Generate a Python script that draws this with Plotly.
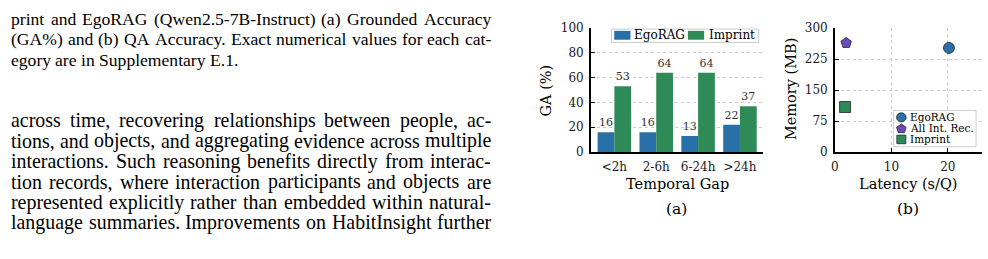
import math
import plotly.graph_objects as go

W, H = 988, 259

# ---------------- data ----------------
categories = ["<2h", "2-6h", "6-24h", ">24h"]
egorag_ga = [16, 16, 13, 22]
imprint_ga = [53, 64, 64, 37]

methods = ["EgoRAG", "All Int. Rec.", "Imprint"]
latency = [20.2, 2.0, 1.8]
memory = [252, 264, 109]

ga_ticks = [0, 20, 40, 60, 80, 100]
mem_ticks = [0, 75, 150, 225, 300]
lat_ticks = [0, 10, 20]

# ---------------- style ----------------
BLUE = "#2a70a8"
GREEN = "#2e8b57"
PURPLE = "#6a4bbd"
SERIF = "DejaVu Serif"
BODY = "Liberation Serif"
GRID = "#cccccc"


def px(x):
    return x / W


def py(y):
    return 1 - y / H


fig = go.Figure()

# (a) grouped bars
fig.add_trace(go.Bar(x=categories, y=egorag_ga, name="EgoRAG", marker_color=BLUE,
                     marker_line_width=0, text=[str(v) for v in egorag_ga],
                     textposition="outside", cliponaxis=False,
                     textfont=dict(family=SERIF, size=11, color="#333333"),
                     xaxis="x", yaxis="y"))
fig.add_trace(go.Bar(x=categories, y=imprint_ga, name="Imprint", marker_color=GREEN,
                     marker_line_width=0, text=[str(v) for v in imprint_ga],
                     textposition="outside", cliponaxis=False,
                     textfont=dict(family=SERIF, size=11, color="#333333"),
                     xaxis="x", yaxis="y"))

# (b) scatter
symbols = ["circle", "pentagon", "square"]
colors = [BLUE, PURPLE, GREEN]
for m, lx, my, s, c in zip(methods, latency, memory, symbols, colors):
    fig.add_trace(go.Scatter(x=[lx], y=[my], mode="markers", name=m,
                             marker=dict(symbol=s, size=11, color=c,
                                         line=dict(width=0.8, color="#222222")),
                             cliponaxis=False, xaxis="x2", yaxis="y2"))

axis_common = dict(showline=True, linecolor="black", linewidth=1.6, zeroline=False,
                   tickfont=dict(family=SERIF, size=12, color="#1a1a1a"),
                   tickcolor="black", ticklen=4, tickwidth=1.2)

fig.update_layout(
    width=W, height=H, margin=dict(l=0, r=0, t=0, b=0),
    paper_bgcolor="white", plot_bgcolor="white", showlegend=False,
    barmode="group", bargap=0.2, bargroupgap=0,
    xaxis=dict(axis_common, domain=[px(589.3), px(762.5)], anchor="y",
               type="category", categoryorder="array", categoryarray=categories,
               range=[-0.56, 3.56], ticks="", showgrid=False, ticklabelstandoff=3),
    yaxis=dict(axis_common, domain=[py(153.3), py(22.3)], anchor="x",
               range=[0, 100], tickvals=ga_ticks, ticks="inside",
               showgrid=True, gridcolor=GRID, griddash="dot", gridwidth=1,
               ticklabelstandoff=3),
    xaxis2=dict(axis_common, domain=[px(834.3), px(981.7)], anchor="y2",
                range=[0, 26], tickvals=lat_ticks, ticks="inside",
                showgrid=True, gridcolor=GRID, griddash="dot", gridwidth=1,
                ticklabelstandoff=3),
    yaxis2=dict(axis_common, domain=[py(153.3), py(22.3)], anchor="x2",
                range=[0, 300], tickvals=mem_ticks, ticks="inside",
                showgrid=True, gridcolor=GRID, griddash="dot", gridwidth=1,
                ticklabelstandoff=3),
)

ann = []
shapes = []


def label(text, x, y, size, family=SERIF, angle=0, xanchor="center", color="black"):
    ann.append(dict(text=text, x=px(x), y=py(y), xref="paper", yref="paper",
                    showarrow=False, xanchor=xanchor, yanchor="middle",
                    textangle=angle, borderpad=0, borderwidth=0,
                    font=dict(family=family, size=size, color=color)))


# axis titles and panel labels
label("GA (%)", 544, 88.5, 14.5, angle=-90)
label("Temporal Gap", 676, 187.5, 14.5)
label("(a)", 675.7, 214, 15.5)
label("Memory (MB)", 790, 87, 14.5, angle=-90)
label("Latency (s/Q)", 907.3, 187.5, 14.5)
label("(b)", 907.7, 214, 15.5)

# legend (a)
shapes.append(dict(type="rect", xref="paper", yref="paper", x0=px(610), x1=px(757.7),
                   y0=py(37.5), y1=py(23.3), fillcolor="rgba(255,255,255,0.85)",
                   line=dict(color="#cccccc", width=1), layer="above"))
for (x0, x1, c, name, tx) in [(612.7, 629, BLUE, "EgoRAG", 633),
                              (686.7, 703, GREEN, "Imprint", 707.7)]:
    shapes.append(dict(type="rect", xref="paper", yref="paper", x0=px(x0), x1=px(x1),
                       y0=py(34.6), y1=py(25.2), fillcolor=c, line=dict(width=0),
                       layer="above"))
    label(name, tx, 30, 12, xanchor="left")

# legend (b)
shapes.append(dict(type="rect", xref="paper", yref="paper", x0=px(893.3), x1=px(976),
                   y0=py(147.7), y1=py(109.3), fillcolor="rgba(255,255,255,0.85)",
                   line=dict(color="#cccccc", width=1), layer="above"))
leg_y = [116.7, 128.3, 140.0]
mx, r = 901, 4.8
for m, c, s, yy in zip(methods, colors, symbols, leg_y):
    if s == "circle":
        shapes.append(dict(type="circle", xref="paper", yref="paper",
                           x0=px(mx - r), x1=px(mx + r), y0=py(yy + r), y1=py(yy - r),
                           fillcolor=c, line=dict(color="#222222", width=0.8), layer="above"))
    elif s == "square":
        shapes.append(dict(type="rect", xref="paper", yref="paper",
                           x0=px(mx - r + 0.3), x1=px(mx + r - 0.3),
                           y0=py(yy + r - 0.3), y1=py(yy - r + 0.3),
                           fillcolor=c, line=dict(color="#222222", width=0.8), layer="above"))
    else:
        pts = []
        for k in range(5):
            a = math.radians(-90 + 72 * k)
            pts.append((px(mx + r * 1.05 * math.cos(a)), py(yy + 0.5 + r * 1.05 * math.sin(a))))
        path = "M " + " L ".join(f"{a:.5f},{b:.5f}" for a, b in pts) + " Z"
        shapes.append(dict(type="path", xref="paper", yref="paper", path=path,
                           fillcolor=c, line=dict(color="#222222", width=0.8), layer="above"))
    label(m, 909.3, yy, 10.5, xanchor="left")

# ---------------- body text (left column) ----------------
TIMES = {' ': 250, '!': 333, '%': 833, '(': 333, ')': 333, ',': 250, '-': 333, '.': 250,
         '/': 278, ':': 278, ';': 278, '?': 444,
         'A': 722, 'B': 667, 'C': 667, 'D': 722, 'E': 611, 'F': 556, 'G': 722, 'H': 722,
         'I': 333, 'J': 389, 'K': 722, 'L': 611, 'M': 889, 'N': 722, 'O': 722, 'P': 556,
         'Q': 722, 'R': 667, 'S': 556, 'T': 611, 'U': 722, 'V': 722, 'W': 944, 'X': 722,
         'Y': 722, 'Z': 611,
         'a': 444, 'b': 500, 'c': 444, 'd': 500, 'e': 444, 'f': 333, 'g': 500, 'h': 500,
         'i': 278, 'j': 278, 'k': 500, 'l': 278, 'm': 778, 'n': 500, 'o': 500, 'p': 500,
         'q': 500, 'r': 333, 's': 389, 't': 278, 'u': 500, 'v': 500, 'w': 722, 'x': 500,
         'y': 500, 'z': 444}

CAPTION_SIZE = 17.6
BODY_SIZE = 19.9
LEFT, RIGHT = 7.0, 489.0


def tw(s, size):
    return sum(TIMES.get(ch, 500) for ch in s) / 1000 * size


body_lines = [
    ("print and EgoRAG (Qwen2.5-7B-Instruct) (a) Grounded Accuracy", 13.7, True, CAPTION_SIZE),
    ("(GA%) and (b) QA Accuracy. Exact numerical values for each cat-", 35.7, True, CAPTION_SIZE),
    ("egory are in Supplementary E.1.", 57.7, False, CAPTION_SIZE),
    ("across time, recovering relationships between people, ac-", 121.0, True, BODY_SIZE),
    ("tions, and objects, and aggregating evidence across multiple", 142.7, True, BODY_SIZE),
    ("interactions. Such reasoning benefits directly from interac-", 164.3, True, BODY_SIZE),
    ("tion records, where interaction participants and objects are", 186.0, True, BODY_SIZE),
    ("represented explicitly rather than embedded within natural-", 207.7, True, BODY_SIZE),
    ("language summaries. Improvements on HabitInsight further", 229.3, True, BODY_SIZE),
]

for text, yc, justify, size in body_lines:
    words = text.split(" ")
    widths = [tw(w, size) for w in words]
    if justify and len(words) > 1:
        gap = max((RIGHT - LEFT - sum(widths)) / (len(words) - 1), 0.15 * size)
    else:
        gap = tw(" ", size)
    x = LEFT
    for w, wd in zip(words, widths):
        label(w, x, yc - 1.5, size, family=BODY, xanchor="left")
        x += wd + gap

fig.update_layout(annotations=ann, shapes=shapes)
fig.write_html("out.html")
